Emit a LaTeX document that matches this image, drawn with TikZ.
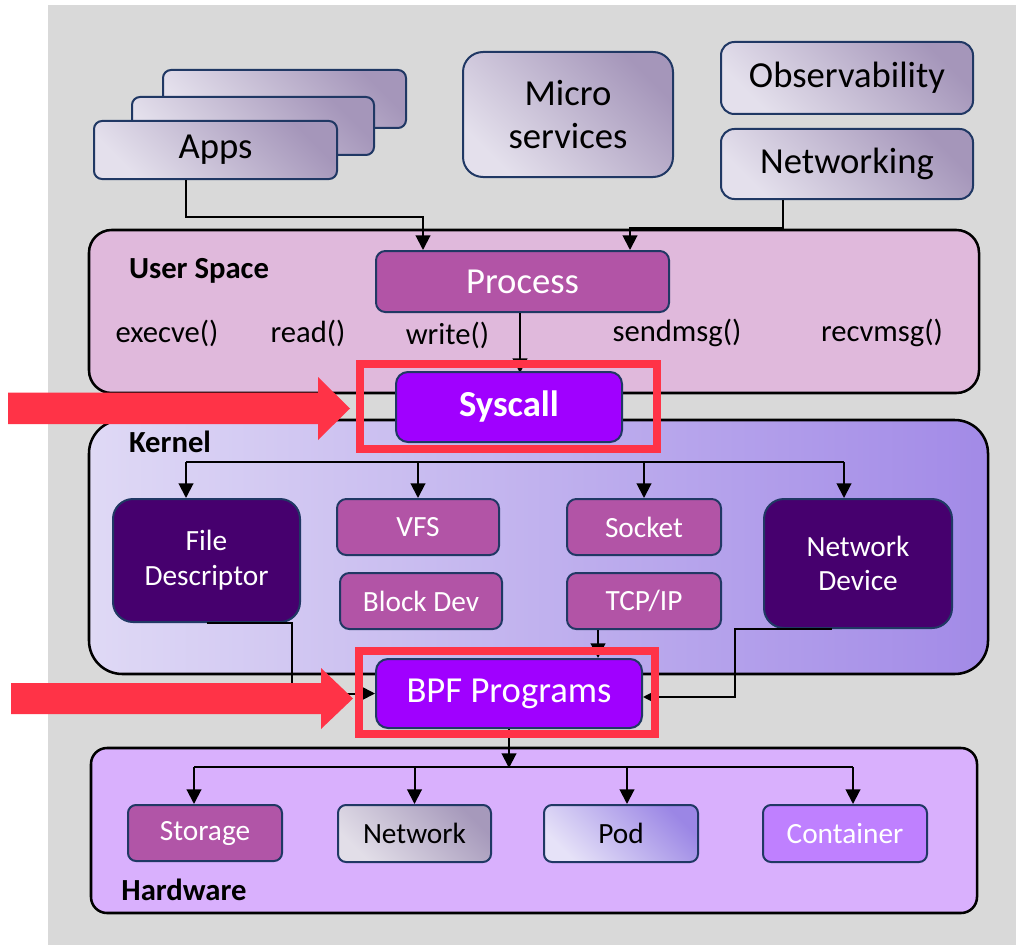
\documentclass[tikz,border=0pt]{standalone}
\usepackage{fontspec}
\setmainfont{Carlito}
\usetikzlibrary{arrows.meta,calc}
\definecolor{bg}{HTML}{D9D9D9}
\definecolor{tblight}{HTML}{E4E0EC}
\definecolor{tbdark}{HTML}{A596BA}
\definecolor{bordernavy}{HTML}{203864}
\definecolor{usfill}{HTML}{E0B9DC}
\definecolor{klight}{HTML}{DFD9F5}
\definecolor{kdark}{HTML}{A28AE7}
\definecolor{hwfill}{HTML}{D9B0FD}
\definecolor{mag}{HTML}{B254A6}
\definecolor{dpurp}{HTML}{46006E}
\definecolor{bpfv}{HTML}{A000FF}
\definecolor{hlred}{HTML}{FF3347}
\definecolor{stor}{HTML}{B155A7}
\definecolor{netl}{HTML}{E2DEE8}
\definecolor{netd}{HTML}{A699BB}
\definecolor{podl}{HTML}{E6E2F8}
\definecolor{podd}{HTML}{9B86E5}
\definecolor{cont}{HTML}{BF80FF}
\begin{document}
\begin{tikzpicture}[x=0.75pt,y=-0.75pt,
  sz/.style 2 args={minimum width=#1*0.75pt, minimum height=#2*0.75pt, inner sep=0pt, align=center},
  nb/.style={draw=bordernavy, line width=1.5pt},
  topbox/.style={nb, top color=tbdark, bottom color=tblight, shading angle=-45, text=black, font=\fontsize{27.5}{32}\selectfont},
  area/.style={draw=black, line width=1.9pt},
  magbox/.style={nb, fill=mag, text=white, rounded corners=7pt, font=\fontsize{22}{26}\selectfont},
  darkbox/.style={nb, fill=dpurp, text=white, rounded corners=15pt, font=\fontsize{22}{26}\selectfont},
  bpfbox/.style={nb, fill=bpfv, text=white, rounded corners=9pt},
  hwbox/.style={nb, rounded corners=6pt, font=\fontsize{22}{26}\selectfont},
  conn/.style={line width=1.5pt, draw=black},
  arr/.style={conn, -{Triangle[length=11pt,width=11pt]}},
  lbl/.style={font=\bfseries\fontsize{23}{27}\selectfont},
  fn/.style={font=\fontsize{23}{27}\selectfont},
  hl/.style={draw=hlred, line width=6pt, inner sep=0pt},
]
\useasboundingbox (0,0) rectangle (1016,945);
\fill[bg] (48,5) rectangle (1016,945);

% top boxes
\node[sz={243}{58}, topbox, rounded corners=6pt] (app3) at (284.5,99) {};
\node[sz={242}{58}, topbox, rounded corners=6pt] (app2) at (253,126) {};
\node[sz={243}{58}, topbox, rounded corners=6pt] (app1) at (215.5,150) {Apps};
\node[sz={210}{125}, topbox, rounded corners=15pt] (micro) at (568,114.5) {Micro\\services};
\node[sz={252}{72}, topbox, rounded corners=10pt] (obs) at (847,78) {Observability};
\node[sz={252}{70}, topbox, rounded corners=10pt] (net) at (847,164) {Networking};

% areas
\node[sz={890}{163}, area, fill=usfill, rounded corners=17pt] (us) at (534,311.5) {};
\node[sz={899}{254}, area, left color=klight, right color=kdark, rounded corners=25pt] (kern) at (538.5,547) {};
\node[sz={886}{165}, area, fill=hwfill, rounded corners=12pt] (hw) at (534,830.5) {};

% labels
\node[lbl] (uslbl) at (199,271) {User Space};
\node[lbl] (klbl) at (170,442) {Kernel};
\node[lbl] (hwlbl) at (184,890) {Hardware};
\node[fn] (f1) at (167,333) {execve()};
\node[fn] (f2) at (308,333) {read()};
\node[fn] (f3) at (447.5,335) {write()};
\node[fn] (f4) at (677,333) {sendmsg()};
\node[fn] (f5) at (882,333) {recvmsg()};

% user space
\node[sz={293}{61}, nb, fill=mag, text=white, rounded corners=7pt, font=\fontsize{27.5}{32}\selectfont] (proc) at (522.5,281.5) {Process};

% kernel
\node[sz={187}{123}, darkbox] (fd) at (206.5,560.5) {File\\Descriptor};
\node[sz={162}{56}, magbox] (vfs) at (418,527) {VFS};
\node[sz={162}{56}, magbox] (blk) at (421,601) {Block Dev};
\node[sz={154}{56}, magbox] (sock) at (644,527) {Socket};
\node[sz={154}{56}, magbox] (tcp) at (644,601) {TCP/IP};
\node[sz={188}{129}, darkbox] (nd) at (858,563.5) {Network\\Device};

% hardware
\node[sz={154}{56}, hwbox, fill=stor, text=white] (stor) at (205,833) {Storage};
\node[sz={153}{57}, hwbox, top color=netd, bottom color=netl, shading angle=-45] (hnet) at (414.5,833.5) {Network};
\node[sz={154}{57}, hwbox, top color=podd, bottom color=podl, shading angle=-45] (pod) at (621,833.5) {Pod};
\node[sz={164}{57}, hwbox, fill=cont, text=white] (cont) at (845,833.5) {Container};

% coordinates for buses
\coordinate (kbus) at (509,463);
\coordinate (hbus) at (509,768);

% connectors top
\draw[arr] ($(app1.south)+(-29.5,0)$) -- ++(0,37) -| ($(proc.north)+(-99.5,0)$);
\draw[arr] ($(net.south)+(-64,0)$) -- ++(0,28) -| ($(proc.north)+(107.5,0)$);

% kernel bus
\draw[conn] ($(fd.north)+(-20.5,-36)$) -- ($(nd.north)+(-14,-36)$);
\draw[arr] ($(fd.north)+(-20.5,-36)$) -- ($(fd.north)+(-20.5,0)$);
\draw[arr] (vfs.north |- kbus) -- (vfs.north);
\draw[arr] (sock.north |- kbus) -- (sock.north);
\draw[arr] ($(nd.north)+(-14,-36)$) -- ($(nd.north)+(-14,0)$);

% BPF
\node[sz={266}{69}, bpfbox, font=\fontsize{27.5}{32}\selectfont] (bpf) at (509,693.5) {BPF Programs};
\draw[arr] (fd.south) -- ++(85.5,0) |- (bpf.west);
\draw[arr] ($(tcp.south)+(-46,0)$) -- ($(bpf.north)+(89,0)$);
\draw[arr] ($(nd.south)+(-26,0)$) -- ++(-97,0) |- ($(bpf.east)+(0,3.5)$);

% hardware bus
\draw[arr] (bpf.south) -- (hbus);
\draw[conn] ($(stor.north)+(-11,-37)$) -- ($(cont.north)+(8,-37)$);
\draw[arr] ($(stor.north)+(-11,-37)$) -- ($(stor.north)+(-11,0)$);
\draw[arr] (hnet.north |- hbus) -- (hnet.north);
\draw[arr] ($(pod.north)+(6,-37)$) -- ($(pod.north)+(6,0)$);
\draw[arr] ($(cont.north)+(8,-37)$) -- ($(cont.north)+(8,0)$);

% syscall
\draw[arr] ($(proc.south)+(-2.5,0)$) -- ($(proc.south)+(-2.5,60)$);
\node[sz={226}{70}, bpfbox, font=\bfseries\fontsize{27.5}{32}\selectfont] (sys) at (509,407) {Syscall};

% highlight frames
\node[hl, sz={297}{85}] (sysframe) at (508.5,406.5) {};
\node[hl, sz={296}{83}] (bpfframe) at (507,692.5) {};

% red pointer arrows
\fill[hlred] (8,392.5) -- (318,392.5) -- (318,377) -- (350,408.5) -- (318,440) -- (318,424) -- (8,424) -- cycle;
\fill[hlred] (11,683) -- (321,683) -- (321,668) -- (353,698.5) -- (321,729) -- (321,714) -- (11,714) -- cycle;
\end{tikzpicture}
\end{document}
